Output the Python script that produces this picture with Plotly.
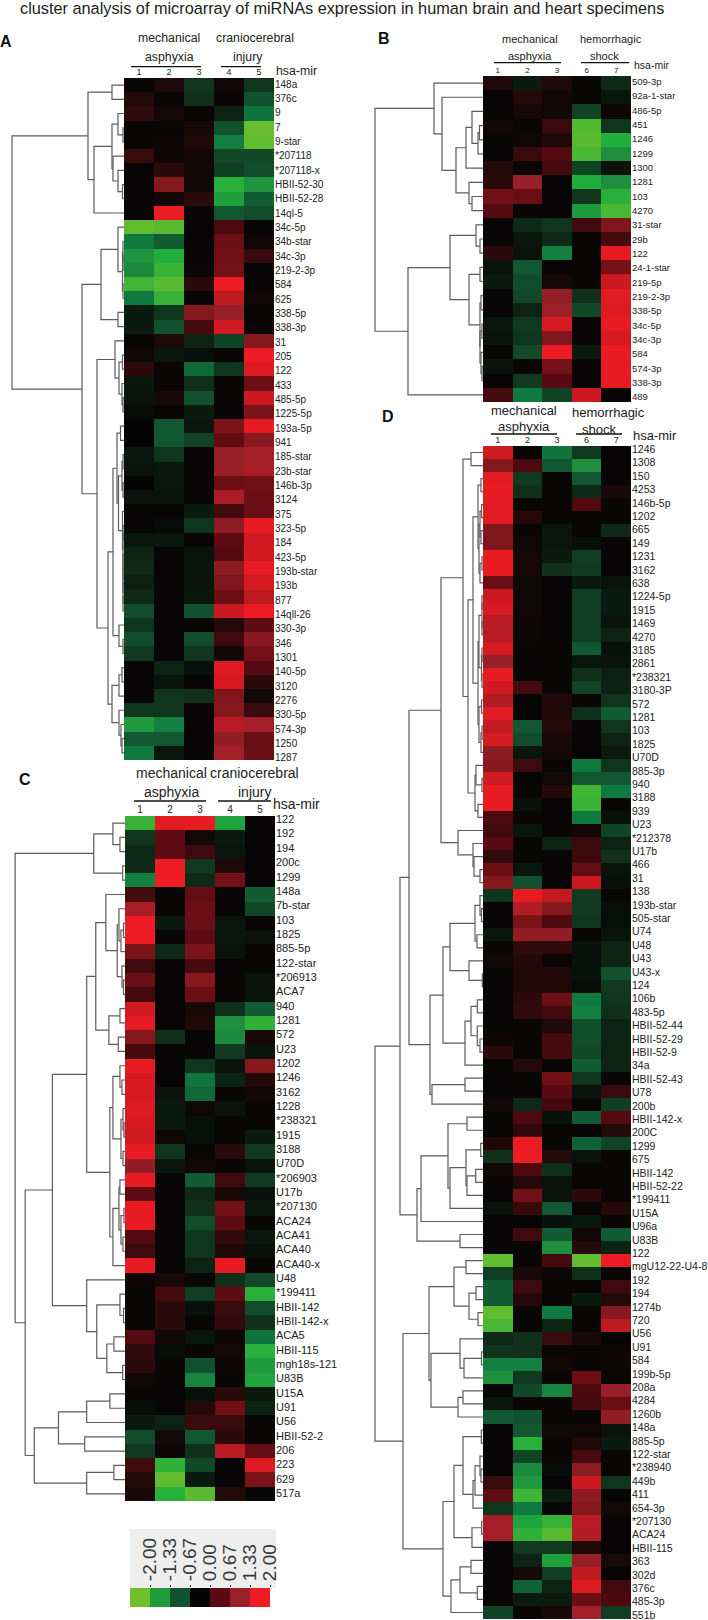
import plotly.graph_objects as go

W, H = 708, 1620
TITLE = "cluster analysis of microarray of miRNAs expression in human brain and heart specimens"

COLOR_STOPS = [(-2, "#72bf2d"), (-1.7, "#40b535"), (-1.5, "#20ae3c"), (-1.2, "#1f8f3e"), (-1, "#0f7a40"),
               (-0.67, "#11532f"), (-0.3, "#10301a"), (0, "#050505"), (0.3, "#2a0a0a"), (0.67, "#5c0a12"),
               (1, "#7a1418"), (1.33, "#9a2029"), (1.7, "#cc1820"), (2, "#ed1c24")]
LEGEND_VALUES = [-2, -1.33, -0.67, 0, 0.67, 1.33, 2]
LEGEND_LABELS = ["-2.00", "-1.33", "-0.67", "0.00", "0.67", "1.33", "2.00"]

A_COLUMNS = ["1", "2", "3", "4", "5"]
A_LABELS = ["148a", "376c", "9", "7", "9-star", "*207118", "*207118-x", "HBII-52-30", "HBII-52-28", "14ql-5",
            "34c-5p", "34b-star", "34c-3p", "219-2-3p", "584", "625", "338-5p", "338-3p", "31", "205", "122",
            "433", "485-5p", "1225-5p", "193a-5p", "941", "185-star", "23b-star", "146b-3p", "3124", "375",
            "323-5p", "184", "423-5p", "193b-star", "193b", "877", "14qll-26", "330-3p", "346", "1301", "140-5p",
            "3120", "2276", "330-5p", "574-3p", "1250", "1287"]
A_VALUES = [
    [.05, .2, -.35, .1, -.35], [.25, .05, -.3, .05, -.65], [.35, .12, .05, -.2, -.95], [.05, .05, .15, -.65, -1.95],
    [.03, .07, .2, -1.05, -1.9], [.4, .07, .1, -.55, -.55], [.02, .3, .1, -.45, -.6], [.02, 1.1, .08, -1.55, -1.25],
    [.02, .1, .3, -1.35, -.75], [.02, 2, .02, -.7, -.6], [-1.9, -1.85, .02, .55, .02], [-1, -.75, .02, .8, .08],
    [-1.25, -1.5, .02, .9, .4], [-1.15, -1.65, .06, .95, .02], [-1.7, -1.85, .3, 2, .02], [-1, -1.65, .02, 1.6, .08],
    [-.15, -.35, 1.1, 1.3, .03], [-.15, -.65, .5, 1.75, .02], [.03, .2, -.2, -.5, 1.1], [.1, -.12, -.06, .03, 2],
    [.3, .05, -.85, -.35, 1.85], [-.12, .05, -.3, .03, .85], [-.1, .15, -.65, .03, 1.7], [-.05, .05, -.15, .02, 1.0],
    [0, -.7, -.12, 1, 1.95], [0, -.7, -.5, .75, 1.15], [-.12, -.35, .02, 1.3, 1.4], [-.1, -.12, .02, 1.3, 1.45],
    [.01, -.12, .02, .85, .9], [-.1, -.1, .02, 1.45, .85], [.02, .02, -.15, .5, .8], [.02, -.05, -.35, 1.2, 1.95],
    [-.12, -.12, .04, .7, 1.75], [-.2, .02, -.1, .6, 1.75], [-.25, .02, -.12, 1.2, 1.95], [-.18, .02, -.1, 1.05, 1.8],
    [-.25, .02, -.12, .85, 1.6], [-.6, .02, -.65, 1.7, 2], [-.35, .02, .02, .25, .7], [-.6, .02, -.6, .45, 1.15],
    [-.4, .02, -.35, .1, .95], [.02, -.2, -.08, 1.85, .6], [.02, -.1, .02, 1.8, .3], [.02, -.35, -.3, 1.05, .1],
    [-.35, -.35, .02, 1.1, .4], [-1.3, -1.05, .02, 1.55, 1.4], [-.7, -.7, .02, 1.25, .8], [-1.0, -.12, .02, 1.4, .8],
]
# dendrogram trees: (merge distance, branch, branch); a whole number is a row
A_TREE = (112,
          (36, (12, 0, 1), (30, (12, (6, 2, (1, 3, 4)), (11, 5, (6, 6, (1.5, 7, 8)))), 9)),
          (42,
           (23, (6, 10, (1.5, (1, 11, (1, 12, 13)), (1, 14, 15))), (6, 16, 17)),
           (27,
            (9, 18, (5, (1.5, 19, 20), (2, 21, (1, 22, 23)))),
            (16,
             (11,
              (7, (3.5, 24, 25), (5.5, (2, (1, 26, 27), (1, 28, 29)),
                                  (1.5, 30, (1, (1, 31, 32), (1, 33, (1, 34, (1, 35, (1, 36, 37)))))))),
              (5, 38, (1, 39, 40))),
             (12, (5, (2, 41, 42), 43), (5, 44, (3, 45, (2, 46, 47))))))))

B_COLUMNS = ["1", "2", "3", "6", "7"]
B_LABELS = ["509-3p", "92a-1-star", "486-5p", "451", "1246", "1299", "1300", "1281", "103", "4270", "31-star", "29b",
            "122", "24-1-star", "219-5p", "219-2-3p", "338-5p", "34c-5p", "34c-3p", "584", "574-3p", "338-3p", "489"]
B_VALUES = [
    [.2, -.15, .2, .03, -.25], [.02, .25, .1, .03, -.12], [.02, .15, .1, -.5, .06], [.1, .05, .4, -1.8, -.35],
    [.03, .08, .2, -1.85, -1.5], [.02, .4, .6, -1.75, -1.2], [.25, .05, .5, -.5, -.1], [.3, 1.3, .02, -1.5, -1.2],
    [.9, .8, .02, -.35, -1.55], [.6, .03, .02, -1.3, -1.75], [.02, -.25, -.35, .45, 1.05], [.02, -.12, -.25, .03, .5],
    [.3, -.1, -1.05, .03, 1.95], [-.1, -.7, .02, .05, .95], [-.15, -.6, .12, .05, 1.7], [.02, -.55, 1.25, -.3, 1.9],
    [.02, -.2, 1.35, -.55, 1.85], [-.12, -.4, 1.8, .02, 1.95], [-.1, -.35, 1.05, .02, 1.8], [.03, -.55, 2, -.15, 1.95],
    [-.1, .05, .95, .02, 1.95], [.02, -.4, .65, .02, 1.95], [.5, -1.0, -.5, 1.7, .02],
]
B_TREE = (108,
          (49, 0, (41, 1, (27, (17, (11, 2, (5, (3.5, 3, 4), 5)), 6), (14, 7, (11, 8, 9))))),
          (75,
           (33, (7, 10, (3, 11, 12)),
            (14, (3, 13, 14), (3, (2, 15, 16), (3, (1, 17, 18), (2, 19, (1, 20, 21)))))),
           22))

C_COLUMNS = ["1", "2", "3", "4", "5"]
C_LABELS = ["122", "192", "194", "200c", "1299", "148a", "7b-star", "103", "1825", "885-5p", "122-star", "*206913",
            "ACA7", "940", "1281", "572", "U23", "1202", "1246", "3162", "1228", "*238321", "1915", "3188", "U70D",
            "*206903", "U17b", "*207130", "ACA24", "ACA41", "ACA40", "ACA40-x", "U48", "*199411", "HBII-142",
            "HBII-142-x", "ACA5", "HBII-115", "mgh18s-121", "U83B", "U15A", "U91", "U56", "HBII-52-2", "206", "223",
            "629", "517a"]
C_VALUES = [
    [-1.65, 1.9, 1.95, -1.4, .02], [-.35, .7, .12, -.15, .02], [-.25, .7, .45, -.12, .02], [-.25, 2, -.4, .2, .02],
    [-1.05, 2, -.25, .9, .02], [.5, .03, .75, .02, -.75], [1.45, .03, .85, .02, -.55], [2, -.15, .8, -.12, .05],
    [2, .02, .7, -.12, -.1], [1.0, -.25, 1.0, -.1, .03], [.45, .02, .5, .02, .05], [.8, .02, 1.1, .03, -.1],
    [.5, .02, .85, .05, -.1], [1.75, .02, .15, -.3, -.75], [1.9, .02, .2, -1.2, -1.6], [1.1, -.3, .02, -1.15, .15],
    [.5, .03, .03, -.4, -.1], [1.95, .02, -.35, -.1, 1.1], [1.8, .02, -.95, -.2, .25], [1.8, -.1, -.85, .05, .1],
    [1.85, -.15, .08, -.1, .03], [1.8, -.15, -.08, .03, .03], [1.75, .08, -.08, .03, -.15], [1.95, -.35, .03, .3, -.4],
    [1.25, -.12, .1, .03, -.1], [1.95, .02, -.75, .45, -.4], [.7, .02, -.25, .15, -.08], [1.95, .02, -.3, .9, -.12],
    [1.95, .02, -.6, .7, .03], [.6, .02, -.35, .35, -.12], [.45, .02, -.35, .2, -.08], [1.95, .02, -.2, 1.95, .05],
    [.08, .15, .03, -.3, -.55], [.03, .5, -.45, .7, -1.55], [.03, .3, -.08, .4, -.6], [.03, .3, .03, .35, -.3],
    [.6, .1, -.12, .07, -.95], [.35, -.05, .03, .12, -1.55], [.3, .03, -.65, .07, -1.3], [.08, .03, -1.1, .05, -1.4],
    [.04, .02, -.08, .3, -.15], [-.05, .02, .25, .9, -.2], [-.15, -.2, .4, .4, .03], [-.6, .12, -.7, .3, .04],
    [-.4, .07, -.3, 1.55, .75], [.45, -1.6, -.55, .02, 1.85], [.25, -1.9, -.15, .02, 1.0], [.15, -1.55, -1.85, .25, .02],
]
C_TREE = (109,
          (31, (12, 0, (5, 1, 2)), (2.3, 3, 4)),
          (99,
           (72,
            (38,
             (29,
              (19, 5, (7.7, (6, 6, (4, (1.5, 7, 8), 9)), (3, 10, (1.5, 11, 12)))),
              (16, (5, 13, 14), (6.7, 15, 16))),
             (15,
              (12, (5, 17, (3, 18, 19)), (4, (2, 20, (1, 21, 22)), (2, 23, 24))),
              (12, (6, (5, 25, 26), (4, (1, 27, 28), (2, 29, 30))), 31))),
            (38, 32, (28, (5, 33, (1.5, 34, 35)), (18, (11, 36, 37), (2.3, 38, 39))))),
           (90,
            (66, (38, (15, 40, 41), 42), (40, 43, 44)),
            (38, (11, 45, 46), 47))))

D_COLUMNS = ["1", "2", "3", "6", "7"]
D_LABELS = ["1246", "1308", "150", "4253", "146b-5p", "1202", "665", "149", "1231", "3162", "638", "1224-5p", "1915",
            "1469", "4270", "3185", "2861", "*238321", "3180-3P", "572", "1281", "103", "1825", "U70D", "885-3p", "940",
            "3188", "939", "U23", "*212378", "U17b", "466", "31", "138", "193b-star", "505-star", "U74", "U48", "U43",
            "U43-x", "124", "106b", "483-5p", "HBII-52-44", "HBII-52-29", "HBII-52-9", "34a", "HBII-52-43", "U78",
            "200b", "HBII-142-x", "200C", "1299", "675", "HBII-142", "HBII-52-22", "*199411", "U15A", "U96a", "U83B",
            "122", "mgU12-22-U4-8", "192", "194", "1274b", "720", "U56", "U91", "584", "199b-5p", "208a", "4284",
            "1260b", "148a", "885-5p", "122-star", "*238940", "449b", "411", "654-3p", "*207130", "ACA24", "HBII-115",
            "363", "302d", "376c", "485-3p", "551b"]
D_VALUES = [
    [1.75, .03, -.95, -.4, .02], [1.1, .55, -.7, -1.2, .02], [1.9, -.4, .03, -.7, .02], [1.95, -.3, .03, -.25, .15],
    [1.9, .03, .03, .6, .03], [1.9, .25, .03, .03, .03], [1.05, .05, -.12, .04, -.25], [1.05, .1, -.12, -.08, .02],
    [1.95, .12, -.15, -.45, .02], [1.95, .12, -.3, -.4, .02], [.8, .08, .02, -.15, -.1], [1.7, .08, .02, -.45, -.15],
    [1.8, .08, .02, -.45, -.15], [1.55, .07, .02, -.45, -.1], [1.55, .07, .02, -.45, -.2], [1.8, .05, .04, -.7, -.08],
    [1.3, .03, .03, -.12, -.1], [1.95, .02, .05, -.3, -.18], [1.75, .5, .03, -.5, -.2], [1.5, .02, .2, .03, -.35],
    [1.9, .02, .2, -.3, -.75], [1.65, -.7, .25, .02, -.35], [1.8, -.6, .15, .02, -.2], [1.2, -.12, .12, .02, -.15],
    [1.15, .45, .03, -1.0, -.35], [1.75, .02, .12, -.7, -.7], [1.95, .03, .25, -1.7, -1.0], [1.95, -.08, .03, -1.65, .05],
    [.55, .04, .02, -1.0, -.08], [.45, -.12, .03, .1, -.5], [.65, .03, -.2, .4, -.2], [.35, .03, .02, .45, -.3],
    [.85, -.12, .02, .75, -.1], [1.1, -.65, .02, 1.7, -.08], [-.35, 1.95, 1.65, -.4, .05], [.02, 1.5, 1.1, -.4, -.06],
    [.02, 1.0, .55, -.35, -.06], [-.12, 1.25, 1.25, .03, -.1], [.05, .35, .35, -.08, -.2], [.1, .25, .05, -.08, -.2],
    [.02, .2, .2, -.08, -.65], [.02, .2, .2, -.05, -.4], [.02, .3, .85, -1.0, -.35], [.02, .35, .45, -1.05, -.3],
    [.03, .03, .2, -.6, -.2], [.08, .03, .5, -.6, -.2], [.3, .03, .5, -.55, -.2], [.03, .25, .03, -.75, -.2],
    [.02, .03, .9, -.35, .03], [.02, .04, .65, -.1, .4], [.1, -.25, .5, .03, -.45], [.03, .55, -.08, -.75, .6],
    [.03, .35, .03, .02, .25], [.2, 2, .03, -.8, -.5], [-.3, 2, .25, -.1, .03], [.08, .55, -.3, .03, .03],
    [.05, .25, -.1, .03, .03], [.02, .9, -.1, .3, .04], [-.08, .4, -.7, .05, .25], [.02, .02, -.08, -.12, .05],
    [.02, .45, -.75, .1, -.75], [.03, .04, -1.2, .25, -.2], [-1.9, .04, .5, -1.9, 2], [-.45, .15, .06, -.3, .03],
    [-.75, .45, .05, .03, .45], [-.75, .25, .03, -.15, .25], [-1.9, .03, -1.0, .03, 1.15], [-1.75, .03, -.2, .03, 1.6],
    [-.25, -.3, .4, .15, .02], [-.35, -.3, .04, .04, .06], [-1.05, -1.05, .1, .04, .06], [-1.2, -.4, .04, .85, .05],
    [.02, -.55, -1.1, .55, 1.3], [-.12, .03, .03, .5, .8], [-.7, -.65, .03, .03, 1.25], [.02, -.7, .1, .08, -.1],
    [.02, -1.55, .03, .2, -.15], [.02, -.5, .03, .5, .03], [.02, -1.15, -.05, 1.2, .03], [.4, -1.3, .02, 1.7, -.35],
    [.7, -1.7, -.15, 1.2, .02], [-.35, -1.0, .02, 1.1, .12], [1.4, -1.4, -1.65, 1.55, .02], [1.4, -1.6, -1.85, 1.5, .02],
    [.02, -.4, -.4, .2, .02], [.02, -.2, -1.35, 1.3, .15], [.02, .15, -.45, 1.6, .02], [.02, -.8, -.2, 1.85, .45],
    [.02, -.15, -.15, .85, .55], [-.5, .05, .15, 1.4, -.45],
]
D_TREE = (108,
          (83,
           (74,
            (42,
             (20,
              (12, 0, 1),
              (15,
               (10,
                (5, (2, 2, 3), (4, (3, (1.5, 4, 5), (2, 6, 7)), (3, (1, 8, 9), 10))),
                (5, (4, (1, (1, 11, 12), (1, 13, 14)), (1.5, (1, 15, 16), (1, 17, 18))),
                 (4, (1.5, 19, 20), (2, (1, 21, 22), 23)))),
               (8, (7, 24, (1, 25, 26)), (5, 27, 28)))),
             (25, 29, (10, 30, (9, 31, (3, 32, 33))))),
            (53,
             (40,
              (33,
               (8, (3, 34, (1.5, 35, 36)), (6, 37, 38)),
               (14, 39, (0.7, 40, 41))),
              (18, (12, (5.7, 42, 43), (5.7, 44, (3, 45, 46))), 47)),
             (51, (18, 48, 49), 50))),
           (66,
            (62,
             (35, (16, 51, 52), (33, (17, (2.3, 53, 54), (16, (7.3, 55, 56), 57)), 58)),
             59),
            (23, 60, 61))),
          (80,
           (54,
            (29, (17, 62, 63), (14, (7, 64, 65), (5, 66, 67))),
            (52, (23, 68, (19, (1.5, 69, 70), 71)), (25, (20, 72, 73), 74))),
           (40,
            (29,
             (20, (1.7, 75, 76), (10, (8, (3, 77, (2, 78, 79)), 80), 81)),
             (11, (1.3, 82, 83), 84)),
            (32, (23, (12, 85, 86), (5.7, 87, 88)), 89))))

# page geometry (pixels)
PANELS = [
    dict(name="A", cols=A_COLUMNS, labels=A_LABELS, vals=A_VALUES, tree=A_TREE, x0=124, x1=274, y0=78, y1=760,
         label_first=84.3, label_step=14.33, label_size=10, col_size=9),
    dict(name="B", cols=B_COLUMNS, labels=B_LABELS, vals=B_VALUES, tree=B_TREE, x0=483, x1=631, y0=76, y1=402,
         label_first=81.7, label_step=14.33, label_size=9.5, col_size=8),
    dict(name="C", cols=C_COLUMNS, labels=C_LABELS, vals=C_VALUES, tree=C_TREE, x0=125, x1=275, y0=816, y1=1501,
         label_first=819.3, label_step=14.34, label_size=11, col_size=10),
    dict(name="D", cols=D_COLUMNS, labels=D_LABELS, vals=D_VALUES, tree=D_TREE, x0=483, x1=631, y0=446, y1=1619,
         label_first=449.3, label_step=13.4, label_size=10.5, col_size=9),
]
FONT = "Liberation Sans, Arial, sans-serif"
INK = "#222222"
TEXTS = [  # text, centre x, centre y, size
    ("mechanical", 169, 38, 12.3), ("asphyxia", 169, 57, 12.3), ("craniocerebral", 255, 38, 12.3), ("injury", 248, 57, 12.3),
    ("mechanical", 530, 39, 11), ("asphyxia", 530, 56, 11), ("hemorrhagic", 611, 39, 11), ("shock", 604, 56, 11),
    ("mechanical", 171, 773, 14), ("asphyxia", 171, 792, 14), ("craniocerebral", 254.5, 773, 14), ("injury", 254, 792, 14),
    ("mechanical", 524, 410, 13), ("asphyxia", 524, 427, 13), ("hemorrhagic", 608, 413, 13), ("shock", 599, 429, 13),
    ("hsa-mir", 296.5, 71, 12.3), ("hsa-mir", 651.5, 65, 10.5), ("hsa-mir", 296, 804, 14), ("hsa-mir", 655, 435, 13),
]
LETTERS = [("A", 6, 42), ("B", 384, 38), ("C", 25, 780), ("D", 388, 416)]
RULES = [(131, 201, 66.7), (221, 261, 66.7), (494, 561, 62.7), (581, 629, 62.7),
         (134, 206, 801), (218, 271, 801), (491, 557, 434), (576, 622, 434)]


def px(x):
    return x / W


def py(y):
    return 1 - y / H


def tree_segments(node, xs, ys):
    """Return (row position, merge distance) of a node, appending its bracket."""
    if isinstance(node, int):
        return node, 0
    h, a, b = node
    ya, ha = tree_segments(a, xs, ys)
    yb, hb = tree_segments(b, xs, ys)
    xs += [ha, h, h, hb, None]
    ys += [ya, ya, yb, yb, None]
    return (ya + yb) / 2, h


fig = go.Figure()
layout = {}
scale = [[(v + 2) / 4, c] for v, c in COLOR_STOPS]
axis_no = 1

for p in PANELS:
    n = len(p["vals"])
    hx, dx = axis_no, axis_no + 1
    axis_no += 2
    rowh = (p["y1"] - p["y0"]) / n
    tickvals = [(p["label_first"] + i * p["label_step"] - p["y0"]) / rowh - 0.5 for i in range(len(p["labels"]))]
    domain_y = [py(p["y1"]), py(p["y0"])]
    layout[f"xaxis{hx}"] = dict(domain=[px(p["x0"]), px(p["x1"])], range=[-0.5, 4.5], side="top", anchor=f"y{hx}",
                                tickmode="array", tickvals=list(range(5)), ticktext=p["cols"], ticks="",
                                showgrid=False, zeroline=False, showline=False, automargin=False,
                                tickfont=dict(size=p["col_size"], color=INK, family=FONT))
    layout[f"yaxis{hx}"] = dict(domain=domain_y, range=[n - 0.5, -0.5], side="right", anchor=f"x{hx}",
                                tickmode="array", tickvals=tickvals, ticktext=p["labels"], ticks="",
                                showgrid=False, zeroline=False, showline=False, automargin=False,
                                ticklabeloverflow="allow",
                                tickfont=dict(size=p["label_size"], color=INK, family=FONT))
    layout[f"xaxis{dx}"] = dict(domain=[0, px(p["x0"])] if p["x0"] < 300 else [px(p["x0"] - 124), px(p["x0"])],
                                range=[124, 0], visible=False, anchor=f"y{dx}", automargin=False)
    layout[f"yaxis{dx}"] = dict(domain=domain_y, range=[n - 0.5, -0.5], visible=False, anchor=f"x{dx}",
                                automargin=False)
    fig.add_trace(go.Heatmap(z=p["vals"], x=list(range(5)), y=list(range(n)), zmin=-2, zmax=2, colorscale=scale,
                             showscale=False, hoverinfo="skip", xaxis=f"x{hx}", yaxis=f"y{hx}"))
    xs, ys = [], []
    root_y, root_h = tree_segments(p["tree"], xs, ys)
    fig.add_trace(go.Scatter(x=xs, y=ys, mode="lines", line=dict(color="#5c5c5c", width=1.2), hoverinfo="skip",
                             showlegend=False, cliponaxis=False, xaxis=f"x{dx}", yaxis=f"y{dx}"))

# colour key
k = axis_no
layout[f"xaxis{k}"] = dict(domain=[px(130), px(270)], range=[-0.5, 6.5], side="top", anchor=f"y{k}", tickmode="array",
                           tickvals=[i + 0.5 for i in range(7)], ticktext=LEGEND_LABELS, tickangle=-90, ticks="outside",
                           ticklen=2, tickwidth=1, tickcolor="#333333", showgrid=False, zeroline=False, showline=False,
                           automargin=False, tickfont=dict(size=19, color="#3a3a3a", family=FONT))
layout[f"yaxis{k}"] = dict(domain=[py(1607), py(1588)], range=[-0.5, 0.5], visible=False, anchor=f"x{k}",
                           automargin=False)
fig.add_trace(go.Heatmap(z=[LEGEND_VALUES], zmin=-2, zmax=2, colorscale=scale, showscale=False, hoverinfo="skip",
                         xaxis=f"x{k}", yaxis=f"y{k}"))


def note(text, x, y, size, color=INK):
    return dict(text=text, x=px(x), y=py(y), xref="paper", yref="paper", xanchor="center", yanchor="middle",
                showarrow=False, font=dict(size=size, color=color, family=FONT))


annotations = [note(TITLE, 341.5, 8, 16.3)]
annotations += [note(t, x, y, s) for t, x, y, s in TEXTS]
annotations += [note(f"<b>{t}</b>", x, y, 16, "#111111") for t, x, y in LETTERS]
shapes = [dict(type="rect", xref="paper", yref="paper", x0=px(130), x1=px(276), y0=py(1588), y1=py(1529),
               fillcolor="#eeeeee", line=dict(width=0), layer="below")]
for x0, x1, y in RULES:
    shapes.append(dict(type="line", xref="paper", yref="paper", x0=px(x0), x1=px(x1), y0=py(y), y1=py(y),
                       line=dict(color="#111111", width=1.3)))

fig.update_layout(width=W, height=H, margin=dict(l=0, r=0, t=0, b=0), paper_bgcolor="white", plot_bgcolor="white",
                  showlegend=False, annotations=annotations, shapes=shapes, **layout)
fig.write_html("out.html", post_script="document.body.style.margin='0';document.body.style.overflow='hidden';",
               config=dict(displayModeBar=False))
